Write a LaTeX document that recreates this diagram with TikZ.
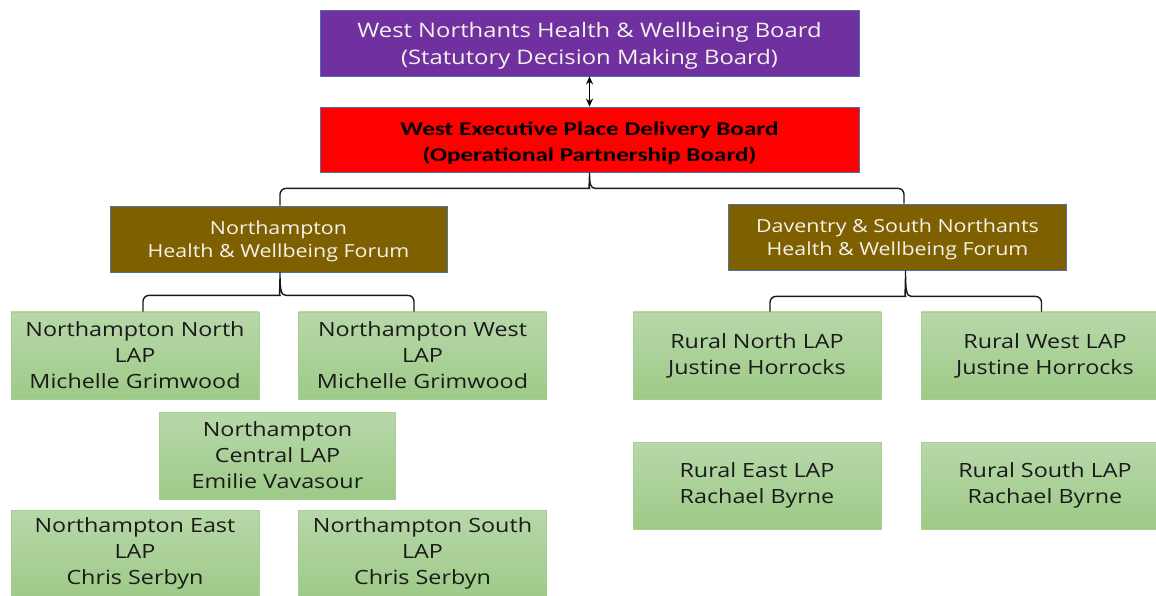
\documentclass[tikz,border=0pt]{standalone}
\usepackage{fontspec}
\setmainfont[FakeStretch=1.19]{Open Sans}
\newfontfamily\calfont[FakeStretch=1.29]{Carlito}
\usepackage{tikz}
\usetikzlibrary{arrows.meta,calc}

\definecolor{boardpurple}{HTML}{7030A0}
\definecolor{execred}{HTML}{FF0000}
\definecolor{forumbrown}{HTML}{7F6000}
\definecolor{boxline}{HTML}{4F6FA8}
\definecolor{boxtext}{HTML}{F4F2EC}
\definecolor{laptop}{HTML}{B7D8A9}
\definecolor{lapbottom}{HTML}{9ECA88}
\definecolor{lapline}{HTML}{A6CF92}
\definecolor{laptext}{HTML}{1A1A1A}

% pads the first line so the text sits a little lower in its box
\newcommand{\toppad}[1]{\rule{0pt}{#1}}

\tikzset{
  box/.style={draw=boxline, line width=0.8pt, inner sep=0pt, align=center},
  board/.style={box, fill=boardpurple, text=boxtext, minimum width=539pt, minimum height=66pt,
    font=\fontsize{20}{27}\selectfont},
  exec/.style={box, fill=execred, text=black, minimum width=539pt, minimum height=65pt,
    font=\calfont\bfseries\fontsize{19.5}{26}\selectfont},
  forum/.style={box, fill=forumbrown, text=boxtext, minimum height=66pt,
    font=\fontsize{18}{23}\selectfont},
  lap/.style={draw=lapline, line width=0.8pt, top color=laptop, bottom color=lapbottom,
    text=laptext, inner sep=0pt, align=center, minimum width=248pt, minimum height=87pt,
    font=\fontsize{19.6}{26}\selectfont},
  tree/.style={draw=black!90, line width=1.4pt, rounded corners=6pt},
  link/.style={{Stealth[length=8pt,width=7pt]}-{Stealth[length=8pt,width=7pt]}, line width=1.3pt}
}

\begin{document}
\begin{tikzpicture}[x=1pt,y=1pt]
  \useasboundingbox (0,0) rectangle (1156,595);

  % boards
  \node[board] (wnb) at (589.5,552) {\toppad{21pt}West Northants Health \& Wellbeing Board\\(Statutory Decision Making Board)};
  \node[exec] (wep) at (589.5,455.5) {\toppad{20.5pt}West Executive Place Delivery Board\\(Operational Partnership Board)};
  \draw[link] (wnb.south) -- (wep.north);

  % forums
  \node[forum, minimum width=337pt] (nfor) at (278.5,356) {\toppad{17.5pt}Northampton\\Health \& Wellbeing Forum};
  \node[forum, minimum width=338pt] (dfor) at (897.5,358) {\toppad{17.5pt}Daventry \& South Northants\\Health \& Wellbeing Forum};

  % local area partnerships
  \node[lap] (nn) at (135,239.5) {Northampton North\\LAP\\Michelle Grimwood};
  \node[lap] (nw) at (422.5,239.5) {Northampton West\\LAP\\Michelle Grimwood};
  \node[lap, minimum width=236pt] (nc) at (277.5,139.5) {Northampton\\Central LAP\\Emilie Vavasour};
  \node[lap] (ne) at (135,41.5) {Northampton East\\LAP\\Chris Serbyn};
  \node[lap] (ns) at (422.5,41.5) {Northampton South\\LAP\\Chris Serbyn};
  \node[lap] (rn) at (757,239.5) {Rural North LAP\\Justine Horrocks};
  \node[lap] (rw) at (1045,239.5) {Rural West LAP\\Justine Horrocks};
  \node[lap] (re) at (757,109.5) {Rural East LAP\\Rachael Byrne};
  \node[lap] (rs) at (1045,109.5) {Rural South LAP\\Rachael Byrne};

  % braces
  \coordinate (wtip) at (wep.south);
  \coordinate (ntip) at ([xshift=1.5pt]nfor.south);
  \coordinate (dtip) at ([xshift=8pt]dfor.south);

  \draw[tree] ([xshift=1.5pt]nfor.north) |- ($(wtip)+(-6,-16)$) [sharp corners]
    .. controls ($(wtip)+(-1,-16)$) and ($(wtip)+(0,-12)$) .. (wtip)
    .. controls ($(wtip)+(0,-12)$) and ($(wtip)+(1,-16)$) .. ($(wtip)+(6,-16)$) [rounded corners=6pt]
    -| ([xshift=6.5pt]dfor.north);
  \draw[tree] ([xshift=8pt]nn.north) |- ($(ntip)+(-6,-23)$) [sharp corners]
    .. controls ($(ntip)+(-1,-23)$) and ($(ntip)+(0,-18)$) .. (ntip)
    .. controls ($(ntip)+(0,-18)$) and ($(ntip)+(1,-23)$) .. ($(ntip)+(6,-23)$) [rounded corners=6pt]
    -| ([xshift=-8.5pt]nw.north);
  \draw[tree] ([xshift=13pt]rn.north) |- ($(dtip)+(-6,-26)$) [sharp corners]
    .. controls ($(dtip)+(-1,-26)$) and ($(dtip)+(0,-21)$) .. (dtip)
    .. controls ($(dtip)+(0,-21)$) and ($(dtip)+(1,-26)$) .. ($(dtip)+(6,-26)$) [rounded corners=6pt]
    -| ([xshift=-3.5pt]rw.north);
\end{tikzpicture}
\end{document}
